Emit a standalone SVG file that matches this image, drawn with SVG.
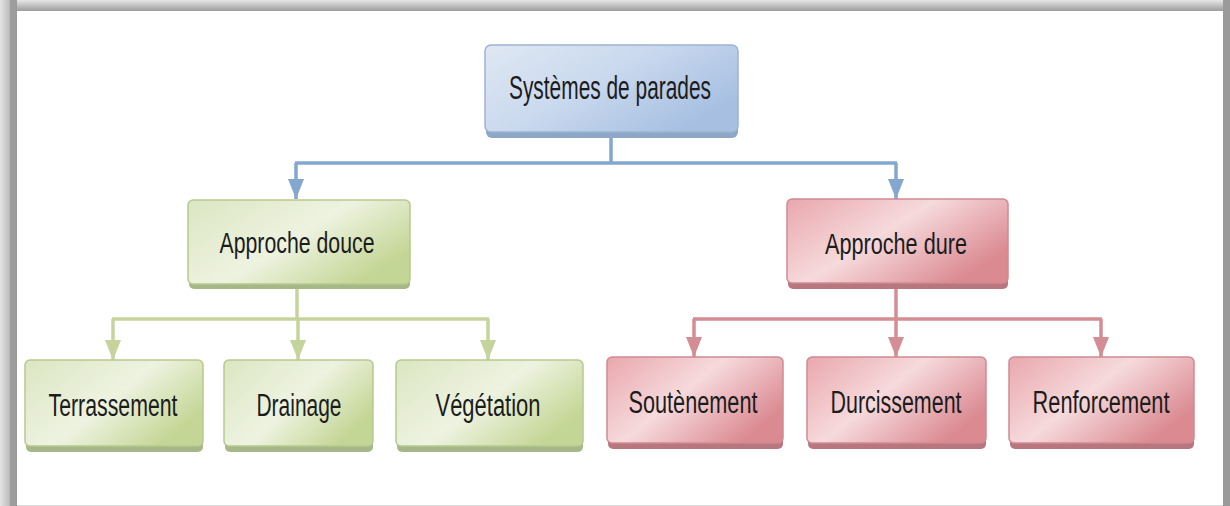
<svg xmlns="http://www.w3.org/2000/svg" width="1230" height="506" viewBox="0 0 1230 506">
<style>
  .lbl { font-family: "Liberation Sans", Arial, sans-serif; text-anchor: middle; fill: #1c1c1c; }
  .big { font-size: 33px; }
  .mid { font-size: 30px; }
  .sm { font-size: 31px; }
  .cb { fill: none; stroke: #84a7d0; stroke-width: 3.5; }
  .cg { fill: none; stroke: #c5d49d; stroke-width: 3.5; }
  .cr { fill: none; stroke: #d48c95; stroke-width: 3.5; }
  .shb { fill: #8ea7c6; }
  .shg { fill: #a7b888; }
  .shr { fill: #b8767f; }
</style>
<defs>
  <linearGradient id="gb" x1="0" y1="0" x2="1" y2="0.6">
    <stop offset="0" stop-color="#dfe8f3"/>
    <stop offset="0.5" stop-color="#cad9ee"/>
    <stop offset="1" stop-color="#a7c0e2"/>
  </linearGradient>
  <linearGradient id="gg" x1="0" y1="0" x2="1" y2="0.6">
    <stop offset="0" stop-color="#dbe6c1"/>
    <stop offset="0.55" stop-color="#eef3e1"/>
    <stop offset="1" stop-color="#c4d695"/>
  </linearGradient>
  <linearGradient id="gr" x1="0" y1="0" x2="1" y2="0.6">
    <stop offset="0" stop-color="#e9a7ad"/>
    <stop offset="0.5" stop-color="#f6dadc"/>
    <stop offset="1" stop-color="#db8a92"/>
  </linearGradient>
  <linearGradient id="ftop" x1="0" y1="0" x2="0" y2="1">
    <stop offset="0" stop-color="#e6e6e6"/>
    <stop offset="1" stop-color="#9c9c9c"/>
  </linearGradient>
  <linearGradient id="fleft" x1="0" y1="0" x2="1" y2="0">
    <stop offset="0" stop-color="#e4e4e4"/>
    <stop offset="0.55" stop-color="#bdbdbd"/>
    <stop offset="0.6" stop-color="#9e9e9e"/>
    <stop offset="1" stop-color="#9a9a9a"/>
  </linearGradient>
  <marker id="ab" markerUnits="userSpaceOnUse" markerWidth="20" markerHeight="16" refX="20" refY="8" orient="auto" viewBox="0 0 20 16">
    <path d="M0,0 L20,8 L0,16 Z" fill="#84a7d0"/>
  </marker>
  <marker id="ag" markerUnits="userSpaceOnUse" markerWidth="20" markerHeight="16" refX="20" refY="8" orient="auto" viewBox="0 0 20 16">
    <path d="M0,0 L20,8 L0,16 Z" fill="#c5d49d"/>
  </marker>
  <marker id="ar" markerUnits="userSpaceOnUse" markerWidth="20" markerHeight="16" refX="20" refY="8" orient="auto" viewBox="0 0 20 16">
    <path d="M0,0 L20,8 L0,16 Z" fill="#d48c95"/>
  </marker>
</defs>

<!-- frame -->
<rect x="0" y="0" width="1230" height="506" fill="#ffffff"/>
<rect x="0" y="0" width="1230" height="11" fill="url(#ftop)"/>
<rect x="0" y="0" width="17" height="506" fill="url(#fleft)"/>
<rect x="1223" y="0" width="7" height="506" fill="#9a9a9a"/>
<rect x="17" y="505" width="1206" height="1" fill="#d8d8d8"/>

<g id="connectors">
  <path class="cb" d="M611,137 V163"/>
  <path class="cb" d="M295,163 H897"/>
  <path class="cb" d="M296,163 V199" marker-end="url(#ab)"/>
  <path class="cb" d="M896,163 V199" marker-end="url(#ab)"/>

  <path class="cg" d="M297,288 V319"/>
  <path class="cg" d="M112,319 H489"/>
  <path class="cg" d="M113,319 V360" marker-end="url(#ag)"/>
  <path class="cg" d="M298,319 V360" marker-end="url(#ag)"/>
  <path class="cg" d="M488,319 V360" marker-end="url(#ag)"/>

  <path class="cr" d="M896,288 V319"/>
  <path class="cr" d="M693,319 H1102"/>
  <path class="cr" d="M694,319 V357" marker-end="url(#ar)"/>
  <path class="cr" d="M896,319 V357" marker-end="url(#ar)"/>
  <path class="cr" d="M1101,319 V357" marker-end="url(#ar)"/>
</g>

<g id="root">
  <rect class="shb" x="486" y="49" width="252" height="89" rx="6"/>
  <rect x="485" y="45" width="253" height="87" rx="6" fill="url(#gb)" stroke="#9cb4d4" stroke-width="1.5"/>
  <text class="lbl big" x="610" y="99" textLength="202" lengthAdjust="spacingAndGlyphs">Systèmes de parades</text>
</g>

<g id="approche-douce">
  <rect class="shg" x="189" y="204" width="221" height="85" rx="5"/>
  <rect x="188" y="200" width="222" height="84" rx="5" fill="url(#gg)" stroke="#b7c98e" stroke-width="1.5"/>
  <text class="lbl mid" x="297" y="253" textLength="155" lengthAdjust="spacingAndGlyphs">Approche douce</text>
</g>

<g id="approche-dure">
  <rect class="shr" x="788" y="203" width="220" height="86" rx="5"/>
  <rect x="787" y="199" width="221" height="84" rx="5" fill="url(#gr)" stroke="#cf8a92" stroke-width="1.5"/>
  <text class="lbl mid" x="896" y="254" textLength="142" lengthAdjust="spacingAndGlyphs">Approche dure</text>
</g>

<g id="terrassement">
  <rect class="shg" x="26" y="364" width="177" height="88" rx="5"/>
  <rect x="25" y="360" width="178" height="86" rx="5" fill="url(#gg)" stroke="#b7c98e" stroke-width="1.5"/>
  <text class="lbl sm" x="113" y="416" textLength="129" lengthAdjust="spacingAndGlyphs">Terrassement</text>
</g>

<g id="drainage">
  <rect class="shg" x="225" y="364" width="148" height="88" rx="5"/>
  <rect x="224" y="360" width="149" height="86" rx="5" fill="url(#gg)" stroke="#b7c98e" stroke-width="1.5"/>
  <text class="lbl sm" x="299" y="416" textLength="85" lengthAdjust="spacingAndGlyphs">Drainage</text>
</g>

<g id="vegetation">
  <rect class="shg" x="397" y="364" width="186" height="88" rx="5"/>
  <rect x="396" y="360" width="187" height="86" rx="5" fill="url(#gg)" stroke="#b7c98e" stroke-width="1.5"/>
  <text class="lbl sm" x="488" y="416" textLength="105" lengthAdjust="spacingAndGlyphs">Végétation</text>
</g>

<g id="soutenement">
  <rect class="shr" x="608" y="361" width="175" height="88" rx="5"/>
  <rect x="607" y="357" width="176" height="86" rx="5" fill="url(#gr)" stroke="#cf8a92" stroke-width="1.5"/>
  <text class="lbl sm" x="693" y="413" textLength="129" lengthAdjust="spacingAndGlyphs">Soutènement</text>
</g>

<g id="durcissement">
  <rect class="shr" x="808" y="361" width="178" height="88" rx="5"/>
  <rect x="807" y="357" width="179" height="86" rx="5" fill="url(#gr)" stroke="#cf8a92" stroke-width="1.5"/>
  <text class="lbl sm" x="896" y="413" textLength="131" lengthAdjust="spacingAndGlyphs">Durcissement</text>
</g>

<g id="renforcement">
  <rect class="shr" x="1010" y="361" width="184" height="88" rx="5"/>
  <rect x="1009" y="357" width="185" height="86" rx="5" fill="url(#gr)" stroke="#cf8a92" stroke-width="1.5"/>
  <text class="lbl sm" x="1101" y="413" textLength="137" lengthAdjust="spacingAndGlyphs">Renforcement</text>
</g>
</svg>
